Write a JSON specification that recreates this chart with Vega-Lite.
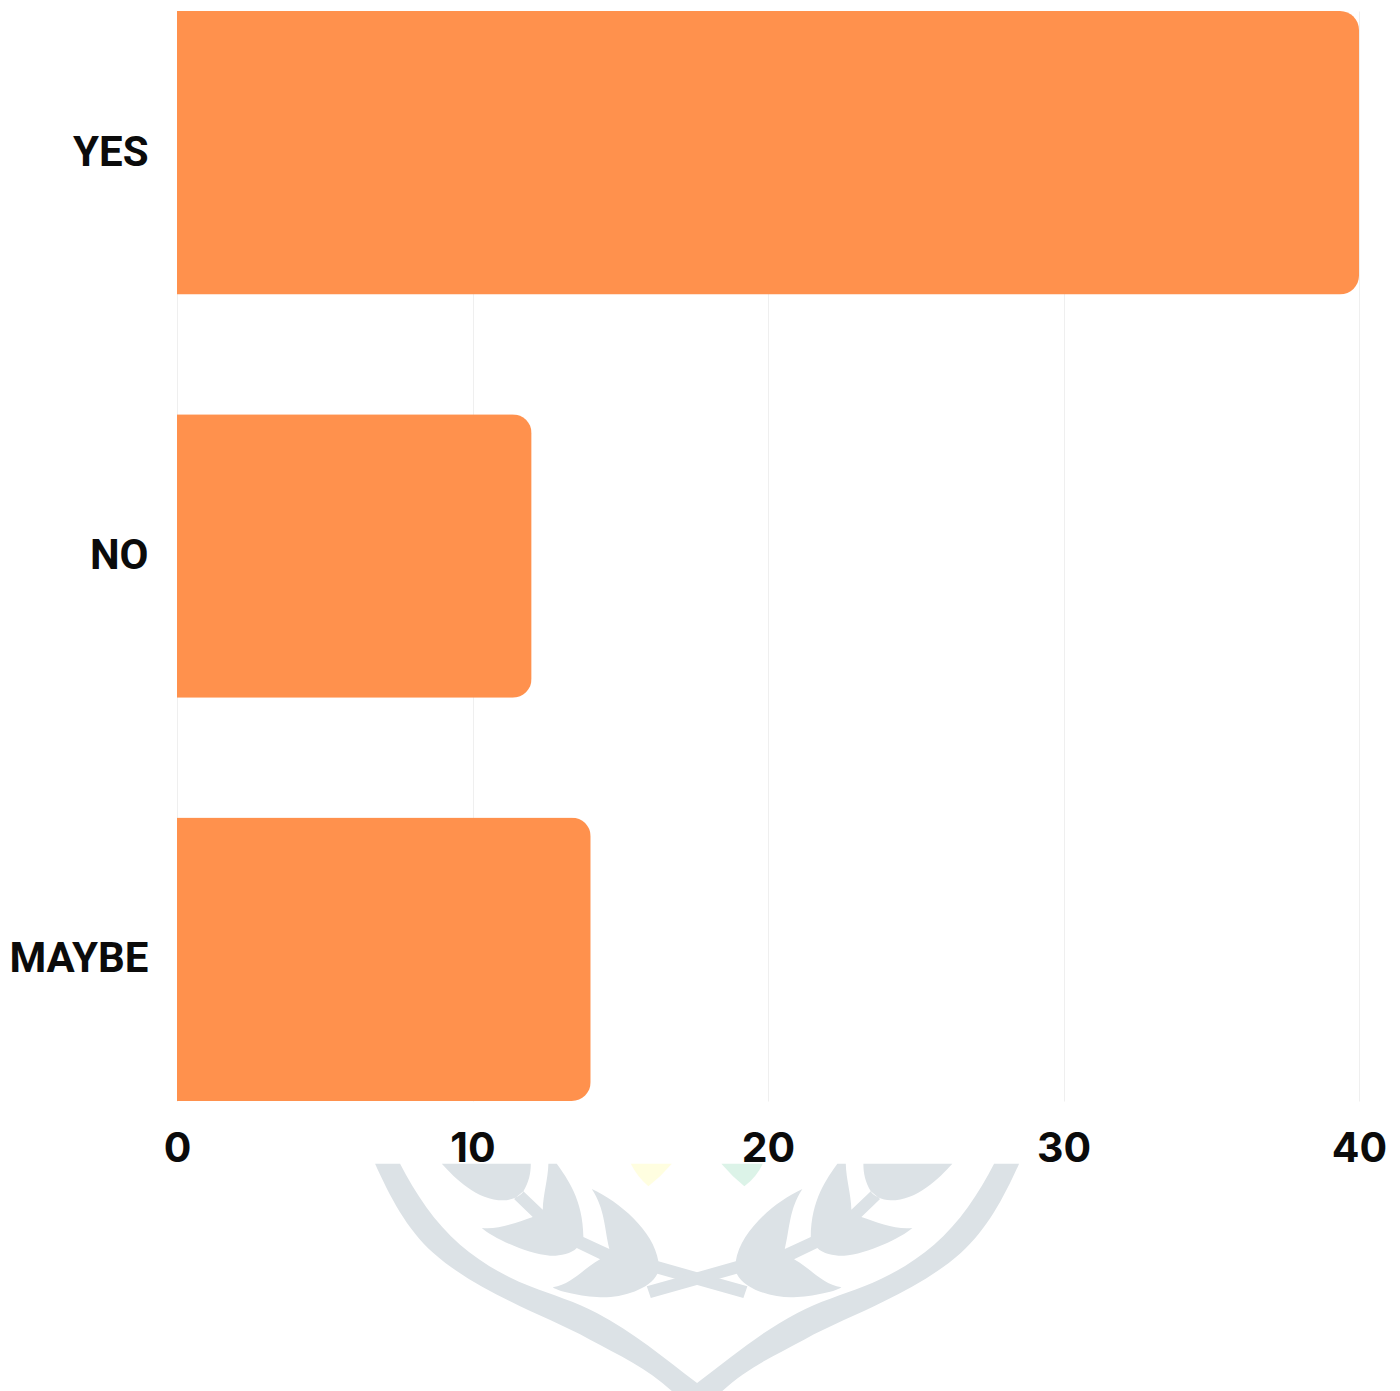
{
  "$schema": "https://vega.github.io/schema/vega-lite/v6.json",
  "width": 1182,
  "height": 1090,
  "autosize": {"type": "none"},
  "padding": {"left": 177, "top": 11, "right": 41, "bottom": 290},
  "background": "#ffffff",
  "config": {"view": {"stroke": null}},
  "layer": [
    {
      "data": {"values": [
        {"answer": "YES", "count": 40},
        {"answer": "NO", "count": 12},
        {"answer": "MAYBE", "count": 14}
      ]},
      "mark": {"type": "bar", "color": "#FF914D", "cornerRadiusEnd": 19},
      "encoding": {
        "y": {
          "field": "answer",
          "type": "nominal",
          "sort": ["YES", "NO", "MAYBE"],
          "scale": {"paddingInner": 0.297, "paddingOuter": 0},
          "axis": {
            "title": null,
            "ticks": false,
            "domain": false,
            "grid": false,
            "labelFont": "Roboto",
            "labelFontWeight": 700,
            "labelFontSize": 42,
            "labelColor": "#0b0b0b",
            "labelPadding": 29,
            "labelOffset": 0,
            "labelLimit": 400
          }
        },
        "x": {
          "field": "count",
          "type": "quantitative",
          "scale": {"domain": [0, 40], "nice": false},
          "axis": {
            "title": null,
            "values": [0, 10, 20, 30, 40],
            "ticks": false,
            "domain": false,
            "grid": true,
            "gridColor": "#efefef",
            "gridWidth": 1,
            "labelFont": "Inter",
            "labelFontWeight": 700,
            "labelFontSize": 41,
            "labelColor": "#0b0b0b",
            "labelPadding": 28,
            "labelFlush": false
          }
        }
      }
    },
    {
      "data": {"values": [
        {"answer": "MAYBE", "count": 17.6, "part": "left"},
        {"answer": "MAYBE", "count": 17.6, "part": "right"},
        {"answer": "MAYBE", "count": 17.6, "part": "yellow"},
        {"answer": "MAYBE", "count": 17.6, "part": "green"}
      ]},
      "mark": {"type": "point", "filled": true, "opacity": 1, "size": 40000},
      "encoding": {
        "y": {"field": "answer", "type": "nominal", "sort": ["YES", "NO", "MAYBE"]},
        "x": {"field": "count", "type": "quantitative"},
        "shape": {
          "field": "part",
          "type": "nominal",
          "legend": null,
          "scale": {
            "domain": ["left", "right", "yellow", "green"],
            "range": [
              "M-3.22 2.044 C-3.072 2.372 -2.905 2.697 -2.637 2.937 C-2.413 3.137 -2.138 3.287 -1.87 3.421 C-1.602 3.555 -1.334 3.661 -1.07 3.804 C-0.788 3.956 -0.496 4.088 -0.25 4.32 L0.25 4.32 C0.496 4.088 0.788 3.956 1.07 3.804 C1.334 3.661 1.602 3.555 1.87 3.421 C2.138 3.287 2.413 3.137 2.637 2.937 C2.905 2.697 3.072 2.372 3.22 2.044 L2.97 2.044 C2.82 2.338 2.62 2.638 2.37 2.854 C2.166 3.03 1.922 3.173 1.67 3.271 C1.446 3.358 1.216 3.426 1.003 3.537 C0.639 3.726 0.328 3.991 0 4.237 C-0.328 3.991 -0.639 3.726 -1.003 3.537 C-1.216 3.426 -1.446 3.358 -1.67 3.271 C-1.922 3.173 -2.166 3.03 -2.37 2.854 C-2.62 2.638 -2.82 2.338 -2.97 2.044 Z M-2.553 2.044 C-2.42 2.19 -2.2 2.411 -1.937 2.411 C-1.85 2.411 -1.75 2.36 -1.737 2.321 C-1.68 2.22 -1.663 2.14 -1.663 2.044 Z M-1.403 2.044 C-1.3 2.19 -1.14 2.4 -1.137 2.777 L-1.203 2.887 C-1.26 2.95 -1.4 2.97 -1.47 2.964 C-1.7 2.95 -2.05 2.78 -2.153 2.687 C-2 2.71 -1.8 2.63 -1.643 2.577 L-1.83 2.397 L-1.737 2.321 L-1.543 2.504 C-1.54 2.35 -1.49 2.2 -1.487 2.044 Z M-1.053 2.297 C-0.78 2.42 -0.43 2.72 -0.387 3.021 L-0.397 3.144 C-0.47 3.3 -0.75 3.381 -0.937 3.381 C-1.1 3.381 -1.38 3.33 -1.443 3.281 C-1.25 3.25 -1.15 3.1 -0.97 3 L-1.203 2.887 L-1.137 2.777 L-0.877 2.897 C-0.93 2.68 -0.92 2.5 -1.053 2.297 Z M-0.387 3.021 L0.503 3.271 L0.463 3.387 L-0.397 3.144 Z",
              "M2.553 2.044 C2.42 2.19 2.2 2.411 1.937 2.411 C1.85 2.411 1.75 2.36 1.737 2.321 C1.68 2.22 1.663 2.14 1.663 2.044 Z M1.403 2.044 C1.3 2.19 1.14 2.4 1.137 2.777 L1.203 2.887 C1.26 2.95 1.4 2.97 1.47 2.964 C1.7 2.95 2.05 2.78 2.153 2.687 C2 2.71 1.8 2.63 1.643 2.577 L1.83 2.397 L1.737 2.321 L1.543 2.504 C1.54 2.35 1.49 2.2 1.487 2.044 Z M1.053 2.297 C0.78 2.42 0.43 2.72 0.387 3.021 L0.397 3.144 C0.47 3.3 0.75 3.381 0.937 3.381 C1.1 3.381 1.38 3.33 1.443 3.281 C1.25 3.25 1.15 3.1 0.97 3 L1.203 2.887 L1.137 2.777 L0.877 2.897 C0.93 2.68 0.92 2.5 1.053 2.297 Z M0.387 3.021 L-0.503 3.271 L-0.463 3.387 L0.397 3.144 Z",
              "M-0.663 2.044 L-0.253 2.044 Q-0.36 2.17 -0.487 2.271 Q-0.6 2.17 -0.663 2.044 Z",
              "M0.243 2.044 L0.657 2.044 Q0.6 2.17 0.473 2.271 Q0.35 2.17 0.243 2.044 Z"
            ]
          }
        },
        "color": {
          "field": "part",
          "type": "nominal",
          "legend": null,
          "scale": {
            "domain": ["left", "right", "yellow", "green"],
            "range": ["#DCE2E6", "#DCE2E6", "#FFFEE0", "#DCF3E8"]
          }
        }
      }
    }
  ]
}
